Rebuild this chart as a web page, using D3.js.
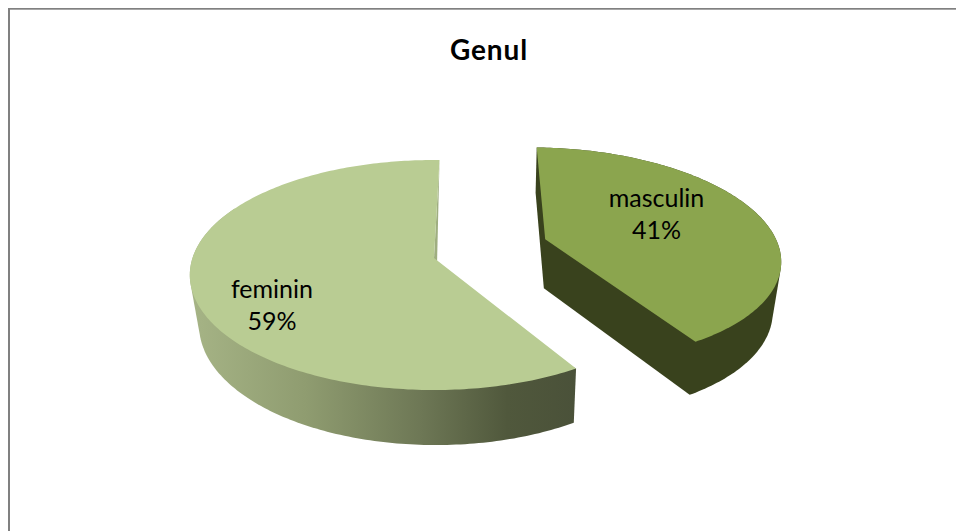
<!DOCTYPE html>
<html>
<head>
<meta charset="utf-8">
<script src="https://cdn.jsdelivr.net/npm/d3@7/dist/d3.min.js"></script>
<style>
  html, body { margin: 0; padding: 0; background: #fff; }
  svg { display: block; }
  text { font-family: Lato, "Open Sans", sans-serif; fill: #000; }
</style>
</head>
<body>
<div id="chart"></div>
<script>
const title = 'Genul';
const categories = ['masculin', 'feminin'];
const shares = [41, 59];
const topColors = ['#8ba54e', '#b9cc93'];

const w = 956;
const h = 531;
const firstAngle = 1.5 * Math.PI / 180;
const persp = 0.148;
const depth = 49;
// how far each slice is pulled out, and its radius after that
const pulled = [[0.472, 0.17], [0, 0]];
const radii = [0.98, 1];
const wallEnd = 5.2;

const svg = d3.select('#chart').append('svg')
  .attr('width', w)
  .attr('height', h);

// chart area border, only left and top fall inside the crop
svg.append('path').attr('d', `M9,${h}V8`)
  .attr('fill', 'none').attr('stroke', '#808080').attr('stroke-width', 2);
svg.append('path').attr('d', `M8,8.5H${w}`)
  .attr('fill', 'none').attr('stroke', '#808080');
svg.append('path').attr('d', `M10,9.5H${w}`)
  .attr('fill', 'none').attr('stroke', '#a6a6a6');

const defs = svg.append('defs');
const grad = defs.append('linearGradient')
  .attr('id', 'wallGrad')
  .attr('gradientUnits', 'userSpaceOnUse')
  .attr('x1', 190).attr('x2', 577).attr('y1', 0).attr('y2', 0);
[[0, '#a6b486'], [0.3, '#8f9c70'], [0.6, '#6d7755'], [0.82, '#50583c'], [1, '#4a5139']]
  .forEach(s => grad.append('stop').attr('offset', s[0]).attr('stop-color', s[1]));

const xScale = d3.scaleLinear().domain([-1, 1]).range([434 - 241.5, 434 + 241.5]);
const yScale = d3.scaleLinear().domain([-1, 1]).range([258 + 112.5, 258 - 112.5]);

// u to the right, v going away from the viewer, both in pie radii
const project = (u, v, low) => {
  const s = 1 / (1 + persp * v);
  const x = xScale(u * s);
  const y = yScale(v * s);
  if (!low) return [x, y];
  return [x + 0.03 * (500 - x), y + depth + 0.04 * (y - 240)];
};

const pie = d3.pie().sort(null)
  .startAngle(firstAngle)
  .endAngle(firstAngle + 2 * Math.PI);
const slices = pie(shares);

const line = d3.line();

const rim = (d, i, low, stop) => {
  const end = Math.min(d.endAngle, stop);
  const n = Math.ceil((end - d.startAngle) * 60);
  return d3.range(n + 1).map(k => {
    const a = d.startAngle + (end - d.startAngle) * k / n;
    return project(pulled[i][0] + radii[i] * Math.sin(a), pulled[i][1] + radii[i] * Math.cos(a), low);
  });
};

const drawSlice = (d, i) => {
  const g = svg.append('g').attr('class', 'slice');
  const top = rim(d, i, false, Infinity);
  const apex = project(pulled[i][0], pulled[i][1], false);
  const apexLow = project(pulled[i][0], pulled[i][1], true);
  const isDark = i === 0;

  if (isDark) {
    // outer wall and both cut faces are the same flat colour
    const all = top.concat(rim(d, i, true, Infinity), [apex, apexLow]);
    g.append('path')
      .attr('d', line(d3.polygonHull(all)) + 'Z')
      .attr('fill', '#39421d');
  } else {
    // sliver of the cut face at the back
    g.append('path')
      .attr('d', line([top[top.length - 1], apex, apexLow]) + 'Z')
      .attr('fill', '#9fae80');
    // only the part of the wall facing the viewer
    const front = rim(d, i, false, wallEnd).concat(rim(d, i, true, wallEnd));
    g.append('path')
      .attr('d', line(d3.polygonHull(front)) + 'Z')
      .attr('fill', 'url(#wallGrad)');
  }

  // top face
  g.append('path')
    .attr('d', line([apex].concat(top)) + 'Z')
    .attr('fill', topColors[i]);
};

slices.forEach(drawSlice);

svg.append('text')
  .attr('x', 489)
  .attr('y', 60)
  .attr('text-anchor', 'middle')
  .attr('font-size', 28)
  .attr('letter-spacing', 0.9)
  .attr('font-weight', 700)
  .text(title);

const labelSpots = [[656.5, 207], [272, 298]];
categories.forEach((c, i) => {
  const t = svg.append('text')
    .attr('text-anchor', 'middle')
    .attr('font-size', 25);
  t.append('tspan')
    .attr('x', labelSpots[i][0]).attr('y', labelSpots[i][1])
    .text(c);
  t.append('tspan')
    .attr('x', labelSpots[i][0]).attr('y', labelSpots[i][1] + 32)
    .text(shares[i] + '%');
});
</script>
</body>
</html>
